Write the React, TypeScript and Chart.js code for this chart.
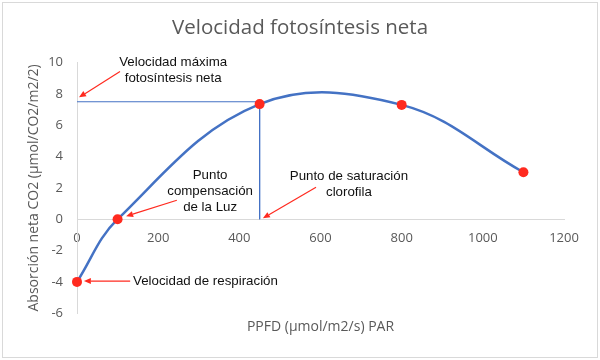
import React, { useEffect, useRef } from 'react';
import { Chart, registerables } from 'chart.js';

Chart.register(...registerables);

// ---- data ----
const ppfd = [0, 100, 450, 800, 1100];
const netRate = [-4, 0, 7.35, 7.3, 3];
const guideX = [0, 450, 450];
const guideY = [7.5, 7.5, 0];
const xMin = 0, xMax = 1200, xStep = 200;
const yMin = -6, yMax = 10, yStep = 2;

const chartTitle = 'Velocidad fotosíntesis neta';
const xTitle = 'PPFD (µmol/m2/s) PAR';
const yTitle = 'Absorción neta CO2 (µmol/CO2/m2/2)';

// annotation texts and arrows, in data units
const noteTexts = [
  ['Velocidad máxima', 'fotosíntesis neta'],
  ['Punto', 'compensación', 'de la Luz'],
  ['Punto de saturación', 'clorofila'],
  ['Velocidad de respiración'],
];
const noteAnchorX = [237, 328, 670, 138];
const noteAnchorY = [9.53, 1.8, 2.23, -3.95];
const noteAlign = ['center', 'center', 'center', 'left'];
const arrowFrom = [[106, 9.43], [246, 1.21], [589, 2.04], [131, -3.95]];
const arrowTo = [[5, 7.78], [121, 0.19], [458, 0.06], [17, -3.95]];

const GREY = '#595959';
const BLUE = '#4472C4';
const RED = '#FF2A1F';

const framePlugin = {
  id: 'frame',
  beforeDraw(chart: any) {
    const { ctx, width, height } = chart;
    ctx.save();
    ctx.fillStyle = '#ffffff';
    ctx.fillRect(0, 0, width, height);
    ctx.strokeStyle = '#d9d9d9';
    ctx.lineWidth = 1;
    ctx.strokeRect(2.5, 2.5, width - 5, height - 5);
    ctx.restore();
  },
};

const notesPlugin = {
  id: 'notes',
  afterDatasetsDraw(chart: any) {
    const { ctx } = chart;
    const xs = chart.scales.x;
    const ys = chart.scales.y;
    ctx.save();
    // arrows
    ctx.strokeStyle = RED;
    ctx.fillStyle = RED;
    ctx.lineWidth = 1.2;
    for (let i = 0; i < arrowFrom.length; i++) {
      const x1 = xs.getPixelForValue(arrowFrom[i][0]);
      const y1 = ys.getPixelForValue(arrowFrom[i][1]);
      const x2 = xs.getPixelForValue(arrowTo[i][0]);
      const y2 = ys.getPixelForValue(arrowTo[i][1]);
      const ang = Math.atan2(y2 - y1, x2 - x1);
      const hl = 7, hw = 3;
      const bx = x2 - hl * Math.cos(ang);
      const by = y2 - hl * Math.sin(ang);
      ctx.beginPath();
      ctx.moveTo(x1, y1);
      ctx.lineTo(bx, by);
      ctx.stroke();
      ctx.beginPath();
      ctx.moveTo(x2, y2);
      ctx.lineTo(bx + hw * Math.sin(ang), by - hw * Math.cos(ang));
      ctx.lineTo(bx - hw * Math.sin(ang), by + hw * Math.cos(ang));
      ctx.closePath();
      ctx.fill();
    }
    // texts
    ctx.fillStyle = '#111111';
    ctx.font = '13.3px "Liberation Sans", Arial, sans-serif';
    ctx.textBaseline = 'middle';
    const lh = 16;
    for (let i = 0; i < noteTexts.length; i++) {
      const lines = noteTexts[i];
      const cx = xs.getPixelForValue(noteAnchorX[i]);
      const cy = ys.getPixelForValue(noteAnchorY[i]);
      ctx.textAlign = noteAlign[i] as CanvasTextAlign;
      const top = cy - ((lines.length - 1) * lh) / 2;
      lines.forEach((t, j) => ctx.fillText(t, cx, top + j * lh));
    }
    ctx.restore();
  },
};

export default function App() {
  const ref = useRef<HTMLCanvasElement | null>(null);
  useEffect(() => {
    if (!ref.current) return;
    const chart = new Chart(ref.current, {
      type: 'scatter',
      data: {
        datasets: [
          {
            data: ppfd.map((v, i) => ({ x: v, y: netRate[i] })),
            showLine: true,
            borderColor: BLUE,
            borderWidth: 2.5,
            tension: 0.38,
            pointRadius: 5,
            pointBackgroundColor: RED,
            pointBorderWidth: 0,
            clip: false as any,
            order: 0,
          },
          {
            data: guideX.map((v, i) => ({ x: v, y: guideY[i] })),
            showLine: true,
            borderColor: BLUE,
            borderWidth: 1,
            tension: 0,
            pointRadius: 0,
            order: 1,
          },
        ],
      },
      plugins: [framePlugin, notesPlugin],
      options: {
        responsive: false,
        animation: false,
        events: [],
        layout: { padding: { top: 0, left: 2, right: 2, bottom: 17 } },
        plugins: {
          legend: { display: false },
          tooltip: { enabled: false },
          title: {
            display: true,
            text: chartTitle,
            color: GREY,
            font: { family: '"Open Sans", sans-serif', size: 20.5, weight: 'normal' },
            padding: { top: 16, bottom: 22 },
          },
          subtitle: {
            display: true,
            position: 'bottom',
            fullSize: false,
            text: xTitle,
            color: GREY,
            font: { family: '"Open Sans", sans-serif', size: 14, weight: 'normal' },
            padding: { top: 5, bottom: 8 },
          },
        },
        scales: {
          x: {
            type: 'linear',
            position: { y: 0 } as any,
            min: xMin,
            max: xMax,
            grid: { display: false, drawTicks: false },
            border: { display: true, color: '#d9d9d9', width: 1 },
            ticks: {
              stepSize: xStep,
              padding: 11,
              maxRotation: 0,
              color: GREY,
              font: { family: '"Open Sans", sans-serif', size: 13 },
              callback: (v: any) => String(v),
            },
          },
          y: {
            type: 'linear',
            position: 'left',
            min: yMin,
            max: yMax,
            grid: { display: false, drawTicks: false },
            border: { display: true, color: '#d9d9d9', width: 1 },
            ticks: {
              stepSize: yStep,
              padding: 14,
              color: GREY,
              font: { family: '"Open Sans", sans-serif', size: 13 },
              callback: (v: any) => String(v),
            },
            title: {
              display: true,
              text: yTitle,
              color: GREY,
              font: { family: '"Open Sans", sans-serif', size: 14 },
              padding: { top: 24, bottom: 0 },
            },
            afterFit: (scale: any) => {
              scale.width = 75;
            },
          },
          yRight: {
            type: 'linear',
            position: 'right',
            min: yMin,
            max: yMax,
            grid: { display: false, drawTicks: false },
            border: { display: false },
            ticks: { display: false },
            afterFit: (scale: any) => {
              scale.width = 34;
            },
          },
        },
      },
    });
    return () => chart.destroy();
  }, []);
  return (
    <div style={{ position: 'absolute', left: 0, top: 0, width: 600, height: 360 }}>
      <canvas ref={ref} width={600} height={360} />
    </div>
  );
}
